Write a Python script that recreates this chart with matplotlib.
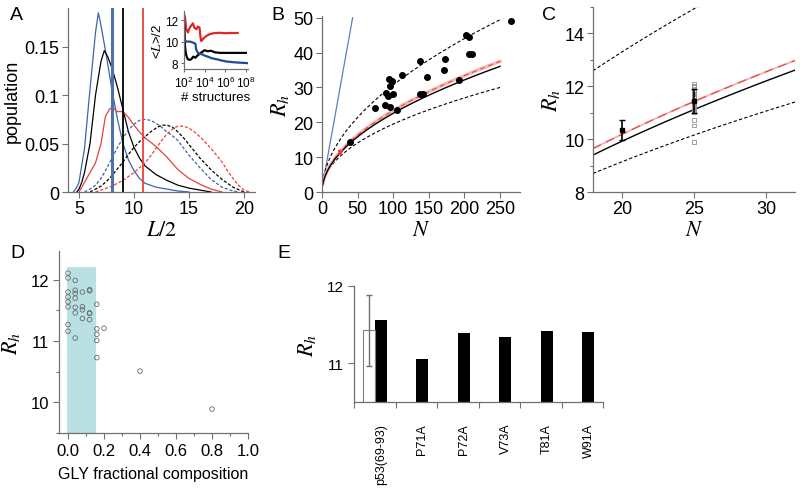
import matplotlib
matplotlib.use('Agg')
import matplotlib.pyplot as plt
import numpy as np
from matplotlib.ticker import MultipleLocator, FixedLocator

plt.rcParams['font.family'] = ['Liberation Sans', 'DejaVu Sans']
plt.rcParams['mathtext.fontset'] = 'stix'

# ---------------- Panel A data ----------------
x_blue_solid = [4.5, 4.8, 5.0, 5.5, 6.0, 6.5, 6.76, 7.0, 7.5, 8.0, 8.5, 9.0, 9.5, 10.0, 10.5, 11.0, 12.0, 13.0, 14.0, 15.0]
y_blue_solid = [0.0, 0.005, 0.01, 0.045, 0.106, 0.165, 0.185, 0.172, 0.14, 0.105, 0.075, 0.05, 0.033, 0.022, 0.014, 0.009, 0.005, 0.003, 0.001, 0.0]
x_black_solid = [4.8, 5.0, 5.25, 5.5, 6.0, 6.5, 7.0, 7.3, 7.6, 8.0, 8.5, 9.0, 9.5, 10.0, 10.5, 11.0, 12.0, 13.0, 14.0, 15.0, 16.0, 17.0]
y_black_solid = [0.0, 0.003, 0.01, 0.02, 0.05, 0.1, 0.135, 0.146, 0.14, 0.128, 0.108, 0.085, 0.062, 0.046, 0.035, 0.027, 0.018, 0.012, 0.007, 0.004, 0.002, 0.0]
x_red_solid = [5.0, 5.5, 6.0, 6.5, 7.0, 7.4, 7.8, 8.1, 8.5, 9.0, 9.5, 10.0, 10.5, 11.0, 12.0, 13.0, 14.0, 15.0, 16.0, 17.0, 18.0]
y_red_solid = [0.0, 0.01, 0.02, 0.03, 0.05, 0.078, 0.086, 0.087, 0.083, 0.083, 0.077, 0.069, 0.062, 0.056, 0.047, 0.036, 0.023, 0.014, 0.008, 0.003, 0.0]
x_blue_dash = [5.5, 6.0, 6.5, 7.0, 7.5, 8.0, 8.5, 9.0, 9.5, 10.0, 10.5, 11.0, 11.5, 12.0, 12.5, 13.0, 13.5, 14.0, 15.0, 16.0, 17.0, 18.0, 19.0, 19.5]
y_blue_dash = [0.0, 0.003, 0.007, 0.014, 0.024, 0.035, 0.046, 0.056, 0.064, 0.07, 0.074, 0.075, 0.074, 0.071, 0.067, 0.062, 0.058, 0.053, 0.038, 0.025, 0.013, 0.005, 0.001, 0.0]
x_black_dash = [6.0, 6.5, 7.0, 7.5, 8.0, 8.5, 9.0, 9.5, 10.0, 10.5, 11.0, 11.5, 12.0, 12.5, 13.0, 13.5, 14.0, 14.5, 15.0, 16.0, 17.0, 18.0, 19.0, 20.0]
y_black_dash = [0.0, 0.003, 0.006, 0.011, 0.017, 0.024, 0.031, 0.039, 0.046, 0.052, 0.057, 0.062, 0.066, 0.069, 0.069, 0.067, 0.062, 0.056, 0.049, 0.035, 0.023, 0.013, 0.005, 0.0]
x_red_dash = [6.5, 7.0, 7.5, 8.0, 8.5, 9.0, 9.5, 10.0, 10.5, 11.0, 11.5, 12.0, 12.5, 13.0, 13.5, 14.0, 14.5, 15.0, 15.5, 16.0, 16.5, 17.0, 17.5, 18.0, 18.5, 19.0, 19.5, 20.0, 20.5]
y_red_dash = [0.0, 0.002, 0.004, 0.006, 0.009, 0.012, 0.016, 0.02, 0.025, 0.03, 0.037, 0.045, 0.053, 0.06, 0.065, 0.068, 0.068, 0.066, 0.062, 0.057, 0.051, 0.045, 0.038, 0.031, 0.022, 0.014, 0.007, 0.002, 0.0]
mean_lines = [7.97, 8.97, 10.85]

# inset
inset_red_x = [1e2, 1.26e2, 1.58e2, 2.4e2, 3.2e2, 5e2, 7.4e2, 1e3, 1.6e3, 2.2e3, 3.2e3, 4e3, 4.7e3, 6.3e3, 1e4, 1.6e4, 3.2e4, 1e5, 3.2e5, 1e6, 3.2e6, 1.6e7]
inset_red_y = [12.55, 12.3, 11.2, 10.85, 11.2, 11.5, 11.7, 11.3, 11.15, 11.4, 11.3, 10.4, 10.05, 10.2, 10.4, 10.55, 10.7, 10.8, 10.82, 10.78, 10.8, 10.8]
inset_black_x = [1e2, 1.12e2, 1.26e2, 1.58e2, 2.2e2, 3.2e2, 5e2, 7.9e2, 1.26e3, 2e3, 3.2e3, 5e3, 1e4, 2e4, 4e4, 1e5, 3.2e5, 1e6, 1e7, 1e8]
inset_black_y = [12.0, 11.0, 9.5, 8.8, 8.4, 8.3, 8.35, 8.6, 8.5, 8.7, 8.85, 9.0, 9.2, 9.1, 9.15, 9.0, 8.95, 8.95, 8.95, 8.95]
inset_blue_x = [1e2, 2e2, 4e2, 7.9e2, 1.26e3, 1.58e3, 2.5e3, 4e3, 6.3e3, 1e4, 2e4, 5e4, 1.6e5, 4e5, 1.26e6, 4e6, 1.6e7, 1.26e8]
inset_blue_y = [10.1, 10.0, 10.0, 9.9, 9.8, 9.2, 8.9, 8.85, 8.8, 8.7, 8.6, 8.45, 8.35, 8.25, 8.15, 8.1, 8.05, 8.0]

# ---------------- Panel B data ----------------
N_exp = [40, 74, 88, 96, 90, 93, 99, 95, 94, 98, 106, 112, 137, 138, 142, 148, 171, 173, 193, 202, 206, 206, 211, 265]
Rh_exp = [14.4, 24.0, 24.9, 24.5, 28.3, 27.6, 28.0, 30.4, 32.3, 31.8, 23.4, 33.5, 37.7, 28.1, 28.1, 32.9, 35.0, 38.3, 32.1, 45.1, 44.4, 39.7, 39.7, 49.1]
# power-law curves Rh = a * N^nu
curve_prefactor = [2.8, 2.146, 2.17, 2.233]
curve_exponent = [0.52, 0.511, 0.516, 0.4705]
rod_N = [1, 43]
rod_Rh = [2.2, 50]

# ---------------- Panel D data (also C at N=25) ----------------
gly_frac = [0.0, 0.0, 0.0, 0.0, 0.0, 0.0, 0.0, 0.0,
            0.04, 0.04, 0.04, 0.04, 0.04, 0.04, 0.04,
            0.08, 0.08, 0.08, 0.08,
            0.12, 0.12, 0.12, 0.12, 0.12,
            0.16, 0.16, 0.16, 0.16, 0.16,
            0.20, 0.40, 0.80]
rh_seq = [12.11, 12.03, 11.80, 11.72, 11.64, 11.56, 11.27, 11.16,
          11.99, 11.83, 11.78, 11.70, 11.55, 11.46, 11.05,
          11.80, 11.56, 11.51, 11.37,
          11.84, 11.82, 11.46, 11.45, 11.35,
          11.60, 11.20, 11.11, 11.01, 10.73,
          11.21, 10.51, 9.89]

# Panel C means
C_N = [20, 25]
C_mean = [10.34, 11.44]
C_err = [0.38, 0.46]

# ---------------- Panel E data ----------------
E_labels = ['p53(69-93)', 'P71A', 'P72A', 'V73A', 'T81A', 'W91A']
E_sim = [11.56, 11.06, 11.39, 11.34, 11.42, 11.41]
E_exp = [11.43]
E_exp_err = [0.46]

W, H = 800, 489
fig = plt.figure(figsize=(8, 4.89), dpi=100)

def rect(l, r, t, b):
    return [l / W, 1 - b / H, (r - l) / W, (b - t) / H]

AXC = '#707070'
def style(ax):
    for s in ['top', 'right']:
        ax.spines[s].set_visible(False)
    for s in ['left', 'bottom']:
        ax.spines[s].set_color(AXC)
        ax.spines[s].set_linewidth(0.9)
    ax.tick_params(which='both', direction='out', color=AXC, width=0.8)
    ax.tick_params(which='major', length=4)
    ax.tick_params(which='minor', length=2.5)

blue_l = '#3d64ad'
red_l = '#e8413c'

# ---- A ----
axA = fig.add_axes(rect(68, 255, 9, 193))
style(axA)
axA.plot(x_blue_solid, y_blue_solid, color=blue_l, lw=0.9)
axA.plot(x_black_solid, y_black_solid, color='black', lw=0.9)
axA.plot(x_red_solid, y_red_solid, color=red_l, lw=0.9)
axA.plot(x_blue_dash, y_blue_dash, color=blue_l, lw=0.9, ls=(0, (2.5, 1.5)))
axA.plot(x_black_dash, y_black_dash, color='black', lw=0.9, ls=(0, (2.5, 1.5)))
axA.plot(x_red_dash, y_red_dash, color=red_l, lw=0.9, ls=(0, (2.5, 1.5)))
axA.axvline(mean_lines[0], color='#4f73a8', lw=2.2)
axA.axvline(mean_lines[1], color='black', lw=1.3)
axA.axvline(mean_lines[2], color=red_l, lw=1.3)
axA.set_xlim(4, 21)
axA.set_ylim(0, 0.19)
axA.set_xticks([5, 10, 15, 20])
axA.set_yticks([0, 0.05, 0.1, 0.15])
axA.set_yticklabels(['0', '0.05', '0.1', '0.15'])
axA.tick_params(labelsize=13, pad=2)
axA.set_xlabel('$L/2$', fontsize=16, labelpad=1)
axA.set_ylabel('population', fontsize=13, labelpad=3)

axI = fig.add_axes(rect(184, 248, 12, 70))
style(axI)
axI.plot(inset_red_x, inset_red_y, color='#e0262b', lw=1.6)
axI.plot(inset_black_x, inset_black_y, color='black', lw=1.6)
axI.plot(inset_blue_x, inset_blue_y, color='#1f4a9a', lw=1.6)
axI.set_xscale('log')
axI.set_xlim(1e2, 1.6e8)
axI.set_ylim(7.45, 12.85)
axI.set_xticks([1e2, 1e4, 1e6, 1e8])
axI.xaxis.set_minor_locator(FixedLocator([]))
axI.set_yticks([8, 10, 12])
axI.tick_params(labelsize=8.5, length=2.5, pad=1.5)
axI.set_xlabel('# structures', fontsize=9.5, labelpad=1)
axI.set_ylabel(r'<$L$>/2', fontsize=9.5, labelpad=1)

# ---- B ----
axB = fig.add_axes(rect(322, 520, 17, 193))
style(axB)
Nc = np.linspace(1, 250, 300)
axB.plot(rod_N, rod_Rh, color='#5d7fc0', lw=0.9)
axB.plot(Nc, curve_prefactor[0] * Nc ** curve_exponent[0], color='black', lw=0.8, ls=(0, (3, 2)))
axB.plot(Nc, curve_prefactor[3] * Nc ** curve_exponent[3], color='black', lw=0.8, ls=(0, (3, 2)))
axB.plot(Nc, curve_prefactor[2] * Nc ** curve_exponent[2], color='#f4b5b3', lw=2.4)
axB.plot(Nc, curve_prefactor[2] * Nc ** curve_exponent[2], color=red_l, lw=0.7, ls=(0, (5, 4)))
axB.plot(Nc, curve_prefactor[1] * Nc ** curve_exponent[1], color='black', lw=1.0)
axB.scatter(N_exp, Rh_exp, s=16, color='black', zorder=5)
axB.errorbar([25], [11.4], yerr=[0.45], fmt='v', color=red_l, ms=3, capsize=1.5, lw=0.8, zorder=6)
axB.set_xlim(0, 278)
axB.set_ylim(0, 50.5)
axB.set_xticks([0, 50, 100, 150, 200, 250])
axB.set_yticks([0, 10, 20, 30, 40, 50])
axB.tick_params(labelsize=13, pad=2)
axB.set_xlabel('$N$', fontsize=16, labelpad=1)
axB.set_ylabel('$R_h$', fontsize=16, labelpad=2)

# ---- C ----
axC = fig.add_axes(rect(593, 795, 8, 193))
style(axC)
Nc2 = np.linspace(18, 32, 100)
axC.plot(Nc2, curve_prefactor[0] * Nc2 ** curve_exponent[0], color='black', lw=0.8, ls=(0, (3, 2)))
axC.plot(Nc2, curve_prefactor[3] * Nc2 ** curve_exponent[3], color='black', lw=0.8, ls=(0, (3, 2)))
axC.plot(Nc2, curve_prefactor[2] * Nc2 ** curve_exponent[2], color='#f4b5b3', lw=1.4)
axC.plot(Nc2, curve_prefactor[2] * Nc2 ** curve_exponent[2], color=red_l, lw=0.8, ls=(0, (8, 5)))
axC.plot(Nc2, curve_prefactor[1] * Nc2 ** curve_exponent[1], color='black', lw=1.0)
axC.scatter([25] * len(rh_seq), rh_seq, s=6, marker='s', facecolor='none', edgecolor='#909090', lw=0.6, zorder=4)
axC.errorbar(C_N, C_mean, yerr=C_err, fmt='s', color='black', ms=2.5, capsize=2.5, lw=1.2, zorder=5)
axC.set_xlim(18, 32)
axC.set_ylim(8, 15)
axC.set_xticks([20, 25, 30])
axC.set_yticks([8, 10, 12, 14])
axC.yaxis.set_minor_locator(MultipleLocator(1))
axC.tick_params(labelsize=13, pad=2)
axC.set_xlabel('$N$', fontsize=16, labelpad=1)
axC.set_ylabel('$R_h$', fontsize=16, labelpad=2)

# ---- D ----
axD = fig.add_axes(rect(59, 248, 252, 434))
style(axD)
axD.fill_between([-0.005, 0.156], 9.5, 12.21, color='#b9e0e2', lw=0, zorder=0)
axD.scatter(gly_frac, rh_seq, s=11, facecolor='none', edgecolor='#6a6a6a', lw=0.6, zorder=3)
axD.set_xlim(-0.05, 1.0)
axD.set_ylim(9.5, 12.47)
axD.set_xticks([0.0, 0.2, 0.4, 0.6, 0.8, 1.0])
axD.set_xticklabels(['0.0', '0.2', '0.4', '0.6', '0.8', '1.0'])
axD.xaxis.set_minor_locator(MultipleLocator(0.1))
axD.set_yticks([10, 11, 12])
axD.yaxis.set_minor_locator(MultipleLocator(0.5))
axD.tick_params(labelsize=12, pad=3)
axD.set_xlabel('GLY fractional composition', fontsize=11.5, labelpad=6)
axD.set_ylabel('$R_h$', fontsize=16, labelpad=6)

# ---- E ----
axE = fig.add_axes(rect(354, 603, 287, 403))
style(axE)
centers = np.arange(len(E_labels)) + 0.5
axE.bar(centers, np.array(E_sim) - 10.5, bottom=10.5, width=0.29, align='edge', color='black', lw=0)
axE.bar(centers[:1], np.array(E_exp) - 10.5, bottom=10.5, width=-0.28, align='edge',
        facecolor='white', edgecolor='#808080', lw=0.8)
axE.errorbar(centers[:1] - 0.14, E_exp, yerr=E_exp_err, fmt='none', ecolor='#707070', capsize=2, lw=1.0)
axE.set_xlim(0, 6)
axE.set_ylim(10.5, 12)
axE.spines['left'].set_bounds(10.5, 12)
axE.set_xticks(centers + 0.15)
axE.set_xticklabels(E_labels, rotation=90, fontsize=9)
axE.tick_params(axis='x', which='major', length=0, pad=15)
axE.xaxis.set_minor_locator(FixedLocator(np.arange(0, 7)))
axE.tick_params(axis='x', which='minor', length=4)
axE.set_yticks([11, 12])
axE.tick_params(axis='y', labelsize=11)
axE.set_ylabel('$R_h$', fontsize=16, labelpad=6)

# panel letters
for lab, x, y in [('A', 10, 7), ('B', 271, 7), ('C', 542, 7), ('D', 10, 245), ('E', 277, 245)]:
    fig.text(x / W, 1 - y / H, lab, fontsize=14, ha='left', va='top')

fig.savefig('out.png', dpi=100)
